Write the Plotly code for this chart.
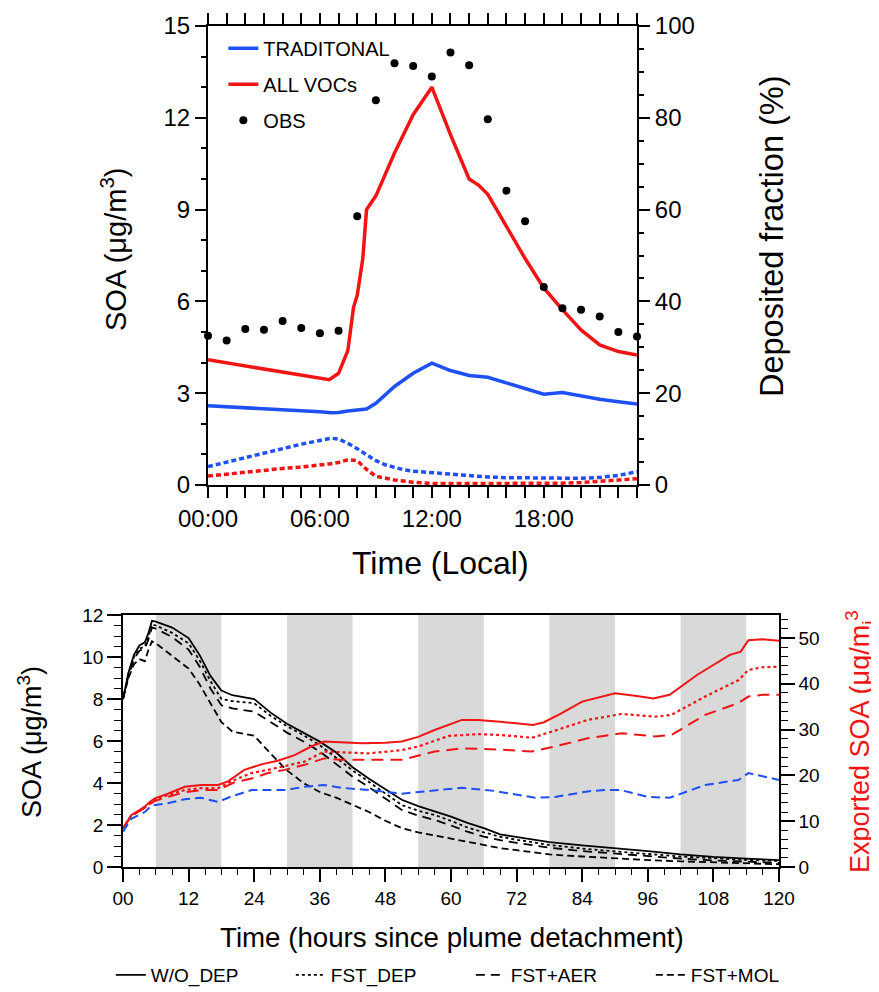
import plotly.graph_objects as go

FONT = 'Liberation Sans, Arial, sans-serif'
BLUE = 'rgb(30,80,245)'
RED = 'rgb(240,20,20)'
GRAY = 'rgb(217,217,217)'
W, H, OFF = 879, 992, 8  # page body adds an 8px margin

# ---- top panel: diurnal SOA (left axis) and deposited fraction (right axis)
obs_hours = list(range(24))
obs = [4.88, 4.72, 5.10, 5.07, 5.36, 5.13, 4.96, 5.04, 8.78, 12.57, 13.78, 13.69,
       13.35, 14.13, 13.72, 11.95, 9.62, 8.62, 6.47, 5.78, 5.73, 5.51, 5.00, 4.85]

trad_t = [0, 1, 2, 3, 4, 5, 6, 6.6, 7, 7.5, 8, 8.5, 9, 10, 11, 12, 13, 14, 15, 16,
          17, 18, 19, 20, 21, 22, 23]
trad = [2.59, 2.56, 2.53, 2.50, 2.47, 2.43, 2.39, 2.36, 2.37, 2.42, 2.46, 2.48, 2.67,
        3.22, 3.65, 3.98, 3.74, 3.58, 3.52, 3.33, 3.13, 2.97, 3.02, 2.91, 2.80, 2.72, 2.65]

allv_t = [0, 1, 2, 3, 4, 5, 6, 6.5, 7, 7.5, 7.8, 8, 8.3, 8.5, 9, 10, 11, 12, 13, 14,
          14.5, 15, 16, 17, 18, 19, 20, 21, 22, 23]
allv = [4.09, 3.99, 3.89, 3.79, 3.69, 3.59, 3.49, 3.44, 3.65, 4.40, 5.80, 6.20, 7.40,
        9.00, 9.45, 10.85, 12.10, 13.00, 11.45, 10.00, 9.80, 9.50, 8.45, 7.40, 6.44,
        5.73, 5.07, 4.58, 4.36, 4.25]

trad_dep_t = [0, 1, 2, 3, 4, 5, 6, 6.6, 7, 7.5, 8, 8.5, 9, 9.5, 10, 10.5, 11, 12, 13,
              14, 15, 16, 17, 18, 19, 20, 21, 22, 23]
trad_dep = [4.0, 5.0, 6.0, 7.0, 8.0, 8.9, 9.7, 10.2, 10.0, 9.1, 7.9, 6.5, 5.3, 4.4, 3.8,
            3.3, 3.0, 2.7, 2.3, 1.95, 1.75, 1.6, 1.55, 1.5, 1.4, 1.45, 1.65, 2.1, 2.9]

allv_dep_t = [0, 1, 2, 3, 4, 5, 6, 6.5, 7, 7.5, 8, 8.5, 9, 10, 11, 12, 13, 14, 15, 16,
              17, 18, 19, 20, 21, 22, 23]
allv_dep = [1.95, 2.4, 2.8, 3.2, 3.6, 3.9, 4.3, 4.6, 4.9, 5.5, 5.3, 3.4, 1.9, 1.1, 0.6,
            0.35, 0.3, 0.3, 0.3, 0.3, 0.3, 0.35, 0.4, 0.55, 0.8, 1.0, 1.35]

top_tickvals = [0, 6, 12, 18]
top_ticktext = ['00:00', '06:00', '12:00', '18:00']

# ---- bottom panel: plume SOA (left) and exported SOA (right)
t_b = [0, 1, 2, 3, 4, 4.6, 5.3, 6, 9, 12, 14, 16, 18, 20, 24, 27, 30, 33, 36, 39, 42,
       45, 48, 51, 54, 57, 60, 63, 66, 69, 72, 75, 78, 84, 90, 96, 102, 108, 114, 120]
wo_dep = [8.0, 9.25, 10.1, 10.55, 10.7, 11.1, 11.72, 11.68, 11.4, 10.9, 10.1, 9.1, 8.4,
          8.18, 8.0, 7.35, 6.82, 6.38, 5.97, 5.45, 4.75, 4.2, 3.68, 3.2, 2.9, 2.64, 2.4,
          2.1, 1.85, 1.55, 1.42, 1.3, 1.18, 1.03, 0.9, 0.76, 0.6, 0.48, 0.40, 0.33]
fst_dep = [8.0, 9.2, 10.0, 10.4, 10.5, 10.9, 11.55, 11.5, 11.15, 10.65, 9.85, 8.85, 8.0,
           7.9, 7.8, 7.2, 6.7, 6.28, 5.8, 5.2, 4.6, 4.05, 3.5, 2.95, 2.68, 2.48, 2.2,
           1.88, 1.65, 1.44, 1.3, 1.17, 1.05, 0.88, 0.74, 0.62, 0.5, 0.41, 0.34, 0.29]
fst_aer = [8.0, 9.1, 9.9, 10.3, 10.4, 10.8, 11.4, 11.35, 10.95, 10.35, 9.55, 8.5, 7.7,
           7.55, 7.4, 6.9, 6.4, 5.98, 5.5, 4.9, 4.3, 3.8, 3.25, 2.72, 2.45, 2.24, 1.98,
           1.68, 1.45, 1.28, 1.15, 1.04, 0.92, 0.76, 0.63, 0.5, 0.4, 0.31, 0.25, 0.2]
fst_mol = [8.0, 9.0, 9.65, 9.9, 9.8, 10.3, 10.75, 10.65, 10.05, 9.45, 8.7, 7.8, 6.9,
           6.45, 6.25, 5.4, 4.6, 4.0, 3.57, 3.3, 2.95, 2.62, 2.2, 1.85, 1.65, 1.5, 1.35,
           1.2, 1.05, 0.9, 0.8, 0.7, 0.6, 0.5, 0.4, 0.33, 0.27, 0.22, 0.17, 0.13]

exp_wo_t = [0, 1.5, 3, 4, 4.9, 5.8, 8.2, 11.3, 14.3, 17.4, 19.2, 22.2, 25.3, 28.3, 31.4,
            34.4, 36.8, 39.9, 43.7, 48, 51, 54, 57, 62, 65, 69, 75, 77, 80, 84, 88, 90,
            94, 97, 100, 105, 111, 113, 114.4, 117, 120]
exp_wo = [8.4, 11.3, 12.4, 13.2, 14.2, 15.0, 16.0, 17.5, 17.9, 17.9, 18.7, 21.2, 22.4,
          23.2, 24.4, 26.3, 27.4, 27.2, 27.0, 27.1, 27.4, 28.4, 29.9, 32.1, 32.1, 31.7,
          31.0, 31.6, 33.4, 36.1, 37.4, 37.9, 37.3, 36.8, 37.6, 41.9, 46.3, 47.0, 49.5,
          49.7, 49.4]

exp_fst_t = [0, 1.5, 4, 4.9, 5.8, 8.2, 11.3, 14.3, 17.4, 20.4, 23.5, 26.5, 29.6, 33.2,
             36.8, 39.9, 44.9, 51, 54, 59.6, 65, 69.3, 74.8, 79.6, 85, 91.2, 97.3, 100.3,
             106.5, 112.6, 114.4, 117, 120]
exp_fst = [8.4, 11.2, 13.0, 13.9, 14.6, 15.7, 16.8, 17.2, 17.2, 19.0, 20.5, 21.2, 22.0,
           23.0, 25.2, 25.0, 24.8, 25.5, 26.3, 28.6, 29.0, 28.8, 28.2, 30.0, 32.1, 33.4,
           32.8, 33.2, 37.2, 40.8, 43.0, 43.6, 43.7]

exp_aer_t = [0, 1.5, 4, 4.9, 5.8, 8.2, 11.3, 14.3, 17.4, 20.4, 23.5, 26.5, 29.6, 33.2,
             36.8, 39.9, 44.9, 51, 57, 62, 69.3, 74.8, 79, 85, 91.2, 97.3, 100.3, 106.5,
             112.6, 114.4, 117, 120]
exp_aer = [8.4, 11.1, 12.9, 13.7, 14.4, 15.3, 16.3, 16.8, 16.8, 18.5, 19.3, 20.5, 21.2,
           22.3, 23.7, 23.4, 23.4, 23.4, 25.2, 25.9, 25.6, 25.2, 26.3, 28.1, 29.2, 28.5,
           28.8, 33.2, 35.8, 37.2, 37.6, 37.6]

exp_mol_t = [0, 1.5, 4, 5.2, 8.2, 11.3, 14.3, 17.4, 19.8, 23.5, 26.5, 29.6, 33.2, 36.8,
             39.9, 44.9, 51, 57, 62, 68, 75.4, 79, 85, 88, 91, 96, 100, 106.5, 112.6,
             114.4, 117, 120]
exp_mol = [7.7, 10.5, 12.0, 13.4, 13.9, 14.8, 15.1, 14.2, 15.4, 16.8, 16.8, 16.8, 17.5,
           17.9, 17.3, 16.8, 16.0, 16.8, 17.3, 16.6, 15.1, 15.3, 16.5, 16.8, 16.8, 15.3,
           15.1, 17.9, 19.0, 20.5, 19.8, 19.0]

night_starts = [6, 30, 54, 78, 102]
night_len = 12
bot_tickvals = list(range(0, 121, 12))
bot_ticktext = ['%02d' % v for v in bot_tickvals]


def px(x):
    return (x - OFF) / W


def py(y):
    return 1 - (y - OFF) / H


fig = go.Figure()

# top panel traces
fig.add_trace(go.Scatter(x=trad_t, y=trad, mode='lines', name='TRADITONAL',
                         line=dict(color=BLUE, width=3.5), legend='legend', legendgroup='a'))
fig.add_trace(go.Scatter(x=allv_t, y=allv, mode='lines', name='ALL VOCs',
                         line=dict(color=RED, width=3.5), legend='legend', legendgroup='b'))
fig.add_trace(go.Scatter(x=obs_hours, y=obs, mode='markers', name='OBS',
                         marker=dict(color='black', size=8), cliponaxis=False,
                         legend='legend', legendgroup='c'))
fig.add_trace(go.Scatter(x=trad_dep_t, y=trad_dep, mode='lines', yaxis='y2', showlegend=False,
                         line=dict(color=BLUE, width=3.5, dash='5px,3px')))
fig.add_trace(go.Scatter(x=allv_dep_t, y=allv_dep, mode='lines', yaxis='y2', showlegend=False,
                         line=dict(color=RED, width=3.5, dash='5px,3px')))

# bottom panel traces
black_lines = [('W/O_DEP', wo_dep, 'solid'), ('FST_DEP', fst_dep, '3px,3px'),
               ('FST+AER', fst_aer, '9px,6px'), ('FST+MOL', fst_mol, '7px,4px')]
for name, vals, dash in black_lines:
    fig.add_trace(go.Scatter(x=t_b, y=vals, mode='lines', name=name, xaxis='x2', yaxis='y3',
                             line=dict(color='black', width=1.8, dash=dash), legend='legend2'))

fig.add_trace(go.Scatter(x=exp_wo_t, y=exp_wo, mode='lines', xaxis='x2', yaxis='y4',
                         showlegend=False, line=dict(color=RED, width=2)))
fig.add_trace(go.Scatter(x=exp_fst_t, y=exp_fst, mode='lines', xaxis='x2', yaxis='y4',
                         showlegend=False, line=dict(color=RED, width=2.2, dash='3px,3px')))
fig.add_trace(go.Scatter(x=exp_aer_t, y=exp_aer, mode='lines', xaxis='x2', yaxis='y4',
                         showlegend=False, line=dict(color=RED, width=2, dash='12px,7px')))
fig.add_trace(go.Scatter(x=exp_mol_t, y=exp_mol, mode='lines', xaxis='x2', yaxis='y4',
                         showlegend=False, line=dict(color=BLUE, width=2, dash='9px,5px')))

for s in night_starts:
    fig.add_shape(type='rect', xref='x2', yref='y3 domain', x0=s, x1=s + night_len,
                  y0=0, y1=1, fillcolor=GRAY, line_width=0, layer='below')

ax = dict(showgrid=False, zeroline=False, showline=True, linecolor='black',
          ticks='outside', tickcolor='black', color='black', automargin=False)


def title(text, x, y, size, angle=0, color='black'):
    return dict(text=text, x=px(x), y=py(y), xref='paper', yref='paper',
                xanchor='center', yanchor='middle', textangle=angle, showarrow=False,
                font=dict(size=size, color=color))


fig.update_layout(
    width=W, height=H,
    margin=dict(l=0, r=0, t=0, b=0, autoexpand=False),
    paper_bgcolor='white', plot_bgcolor='white',
    font=dict(family=FONT, color='black'),
    xaxis=dict(ax, domain=[px(208), px(637)], anchor='y', range=[0, 23],
               tickvals=top_tickvals, ticktext=top_ticktext, mirror='allticks',
               linewidth=2, tickwidth=2, ticklen=11, tickfont=dict(size=24),
               minor=dict(dtick=1, tick0=0, ticks='outside', ticklen=5, tickwidth=1.5,
                          tickcolor='black')),
    yaxis=dict(ax, domain=[py(485), py(26)], anchor='x', range=[0, 15], dtick=3, tick0=0,
               linewidth=2, tickwidth=2, ticklen=11, tickfont=dict(size=24),
               minor=dict(dtick=1, tick0=0, ticks='outside', ticklen=5, tickwidth=1.5,
                          tickcolor='black')),
    yaxis2=dict(ax, overlaying='y', side='right', anchor='x', range=[0, 100], dtick=20,
                tick0=0, linewidth=2, tickwidth=2, ticklen=11, tickfont=dict(size=24),
                minor=dict(dtick=5, tick0=0, ticks='outside', ticklen=5, tickwidth=1.5,
                           tickcolor='black')),
    xaxis2=dict(ax, domain=[px(123), px(779)], anchor='y3', range=[0, 120],
                tickvals=bot_tickvals, ticktext=bot_ticktext, mirror=True,
                linewidth=1.5, tickwidth=1.5, ticklen=13, tickfont=dict(size=19),
                minor=dict(dtick=3, tick0=0, ticks='outside', ticklen=6, tickwidth=1.2,
                           tickcolor='black')),
    yaxis3=dict(ax, domain=[py(867), py(615)], anchor='x2', range=[0, 12], dtick=2, tick0=0,
                linewidth=1.5, tickwidth=1.5, ticklen=14, tickfont=dict(size=19),
                minor=dict(dtick=0.5, tick0=0, ticks='outside', ticklen=7, tickwidth=1.2,
                           tickcolor='black')),
    yaxis4=dict(ax, overlaying='y3', side='right', anchor='x2', range=[0, 55],
                tickvals=[0, 10, 20, 30, 40, 50], linewidth=1.5, tickwidth=1.5, ticklen=14,
                tickfont=dict(size=19),
                minor=dict(dtick=2, tick0=0, ticks='outside', ticklen=7, tickwidth=1.2,
                           tickcolor='black')),
    legend=dict(x=0.245, y=0.979, xanchor='left', yanchor='top', bgcolor='rgba(0,0,0,0)',
                font=dict(size=20), tracegroupgap=7),
    legend2=dict(orientation='h', x=0.117, y=py(975), xanchor='left', yanchor='middle',
                 bgcolor='rgba(0,0,0,0)', font=dict(size=19), entrywidth=135),
    annotations=[
        title('SOA (μg/m<sup>3</sup>)', 114, 250, 29, -90),
        title('Deposited fraction (%)', 772, 236, 32.5, -90),
        title('Time (Local)', 440, 563, 32),
        title('SOA (μg/m<sup>3</sup>)', 30, 742, 27, -90),
        title('Exported SOA (μg/m<sub>i</sub><sup>3</sup>', 860, 742, 27, -90, RED),
        title('Time (hours since plume detachment)', 452, 937, 27.7),
    ],
)

fig.write_html("out.html")
